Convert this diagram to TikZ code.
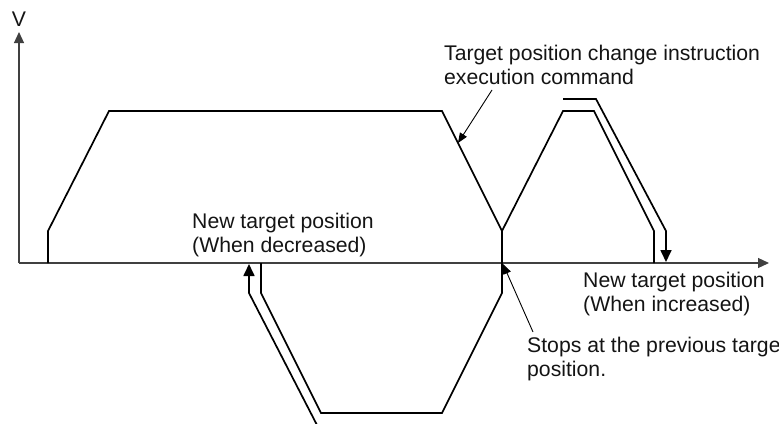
\documentclass[tikz,border=0pt]{standalone}
\usepackage{fontspec}
\setmainfont{Liberation Sans}
\usetikzlibrary{arrows.meta}

\tikzset{
  axisline/.style={line width=1.2pt, draw=black!75, -{Triangle[length=11pt,width=10pt]}},
  profile/.style={line width=1.7pt, line join=miter},
  newdir/.style={profile, -{Triangle[length=12pt,width=11pt]}},
  pointer/.style={line width=0.9pt, -{Triangle[length=10pt,width=8pt]}},
  note/.style={font=\fontsize{21.2}{23.5}\selectfont, align=left, inner sep=0pt, text=black!92},
}

\begin{document}
\begin{tikzpicture}[x=1pt,y=-1pt]
    \clip (0,0) rectangle (779,423);

    % Axes
    \draw[axisline] (19,263) -- (19,32);
    \draw[axisline] (19,263) -- (769,263);
    \node[note, anchor=base] (vlab) at (19,27) {V};

    % Speed profiles
    \draw[profile] (48,263) -- (48,231) -- (109,111) -- (442,111) -- (502,231)
        -- (502,293) -- (442,413) -- (321,413) -- (261,293) -- (261,263);
    \draw[profile] (502,231) -- (563,111) -- (594,111) -- (654,231) -- (654,263);

    % Direction to the new target
    \draw[newdir] (563,99) -- (596,99) -- (666,231) -- (666,262);
    \draw[newdir] (318,427) -- (249,293) -- (249,264);

    % Labels
    \node[note, anchor=north west] (cmd) at (444,45)
        {Target position change instruction\\execution command};
    \node[note, anchor=north west] (newdec) at (192,213)
        {New target position\\(When decreased)};
    \node[note, anchor=north west] (newinc) at (583,272)
        {New target position\\(When increased)};
    \node[note, anchor=north west] (stops) at (527,337)
        {Stops at the previous target\\position.};

    % Pointers
    \coordinate (cmdfoot) at (492,90);
    \coordinate (cmdtip) at (458,143);
    \draw[pointer] (cmdfoot) -- (cmdtip);
    \coordinate (stopfoot) at (533,332);
    \coordinate (stoptip) at (503,264);
    \draw[pointer] (stopfoot) -- (stoptip);
\end{tikzpicture}
\end{document}
